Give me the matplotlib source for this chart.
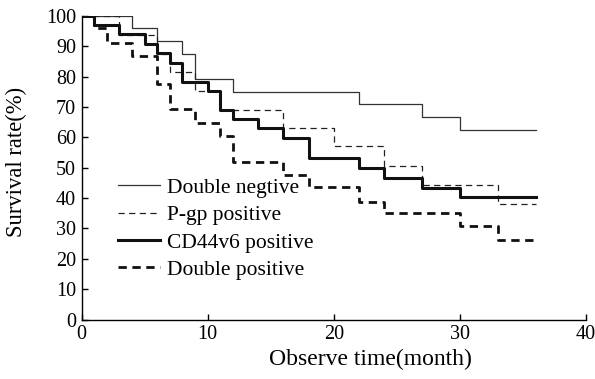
import matplotlib
matplotlib.use("Agg")
import matplotlib.pyplot as plt

plt.rcParams['font.family'] = ['Liberation Serif', 'DejaVu Serif']

# Kaplan-Meier steps (month, survival %)
neg_t = [0, 4, 6, 8, 9, 12, 22, 27, 30, 36]
neg_s = [100, 95.8, 91.7, 87.5, 79.2, 75.0, 70.8, 66.7, 62.5, 62.5]

pgp_t = [0, 3, 6, 7, 9, 11, 16, 20, 24, 27, 33, 36]
pgp_s = [100, 93.8, 87.5, 81.5, 75.3, 69.0, 63.0, 57.0, 50.5, 44.3, 38.0, 38.0]

cd44_t = [0, 1, 3, 5, 6, 7, 8, 10, 11, 12, 14, 16, 18, 22, 24, 27, 30, 36]
cd44_s = [100, 96.9, 93.9, 90.6, 87.6, 84.6, 78.2, 75.3, 68.9, 65.9, 63.0, 59.9, 53.2, 49.9, 46.6, 43.3, 40.2, 40.2]

dpos_t = [0, 1, 2, 4, 6, 7, 9, 11, 12, 16, 18, 22, 24, 30, 33, 36]
dpos_s = [100, 95.8, 91.0, 86.6, 77.6, 69.2, 64.8, 60.4, 51.8, 47.5, 43.5, 38.8, 35.0, 30.8, 26.2, 26.2]

fig = plt.figure(figsize=(5.95, 3.79), dpi=100)
ax = fig.add_axes([0.137, 0.1565, 0.848, 0.802])

ax.plot(neg_t, neg_s, drawstyle='steps-post', color='#333333', lw=0.9,
        label='Double negtive')
ax.plot(pgp_t, pgp_s, drawstyle='steps-post', color='#222222', lw=0.9,
        dashes=(5, 3.5), label='P-gp positive')
ax.plot(cd44_t, cd44_s, drawstyle='steps-post', color='#111111', lw=2.2,
        label='CD44v6 positive')
ax.plot(dpos_t, dpos_s, drawstyle='steps-post', color='#111111', lw=2.0,
        dashes=(3, 2), label='Double positive')

ax.set_xlim(0, 40)
ax.set_ylim(0, 100)
ax.set_xticks(range(0, 41, 10))
ax.set_yticks(range(0, 101, 10))
ax.spines['top'].set_visible(False)
ax.spines['right'].set_visible(False)
for sp in ax.spines.values():
    sp.set_linewidth(1.0)
ax.tick_params(direction='in', length=4, width=1, labelsize=14.5, pad=4)

ax.set_xlabel('Observe time(month)', fontsize=17)
ax.xaxis.set_label_coords(0.572, -0.095)
ax.set_ylabel('Survival rate(%)', fontsize=16.3)
ax.yaxis.set_label_coords(-0.108, 0.519)

ax.legend(loc='upper left', bbox_to_anchor=(0.072, 0.467), frameon=False,
          fontsize=15.5, handlelength=1.95, handletextpad=0.35,
          labelspacing=0.34, borderaxespad=0, borderpad=0)

fig.savefig('out.png', dpi=100)
